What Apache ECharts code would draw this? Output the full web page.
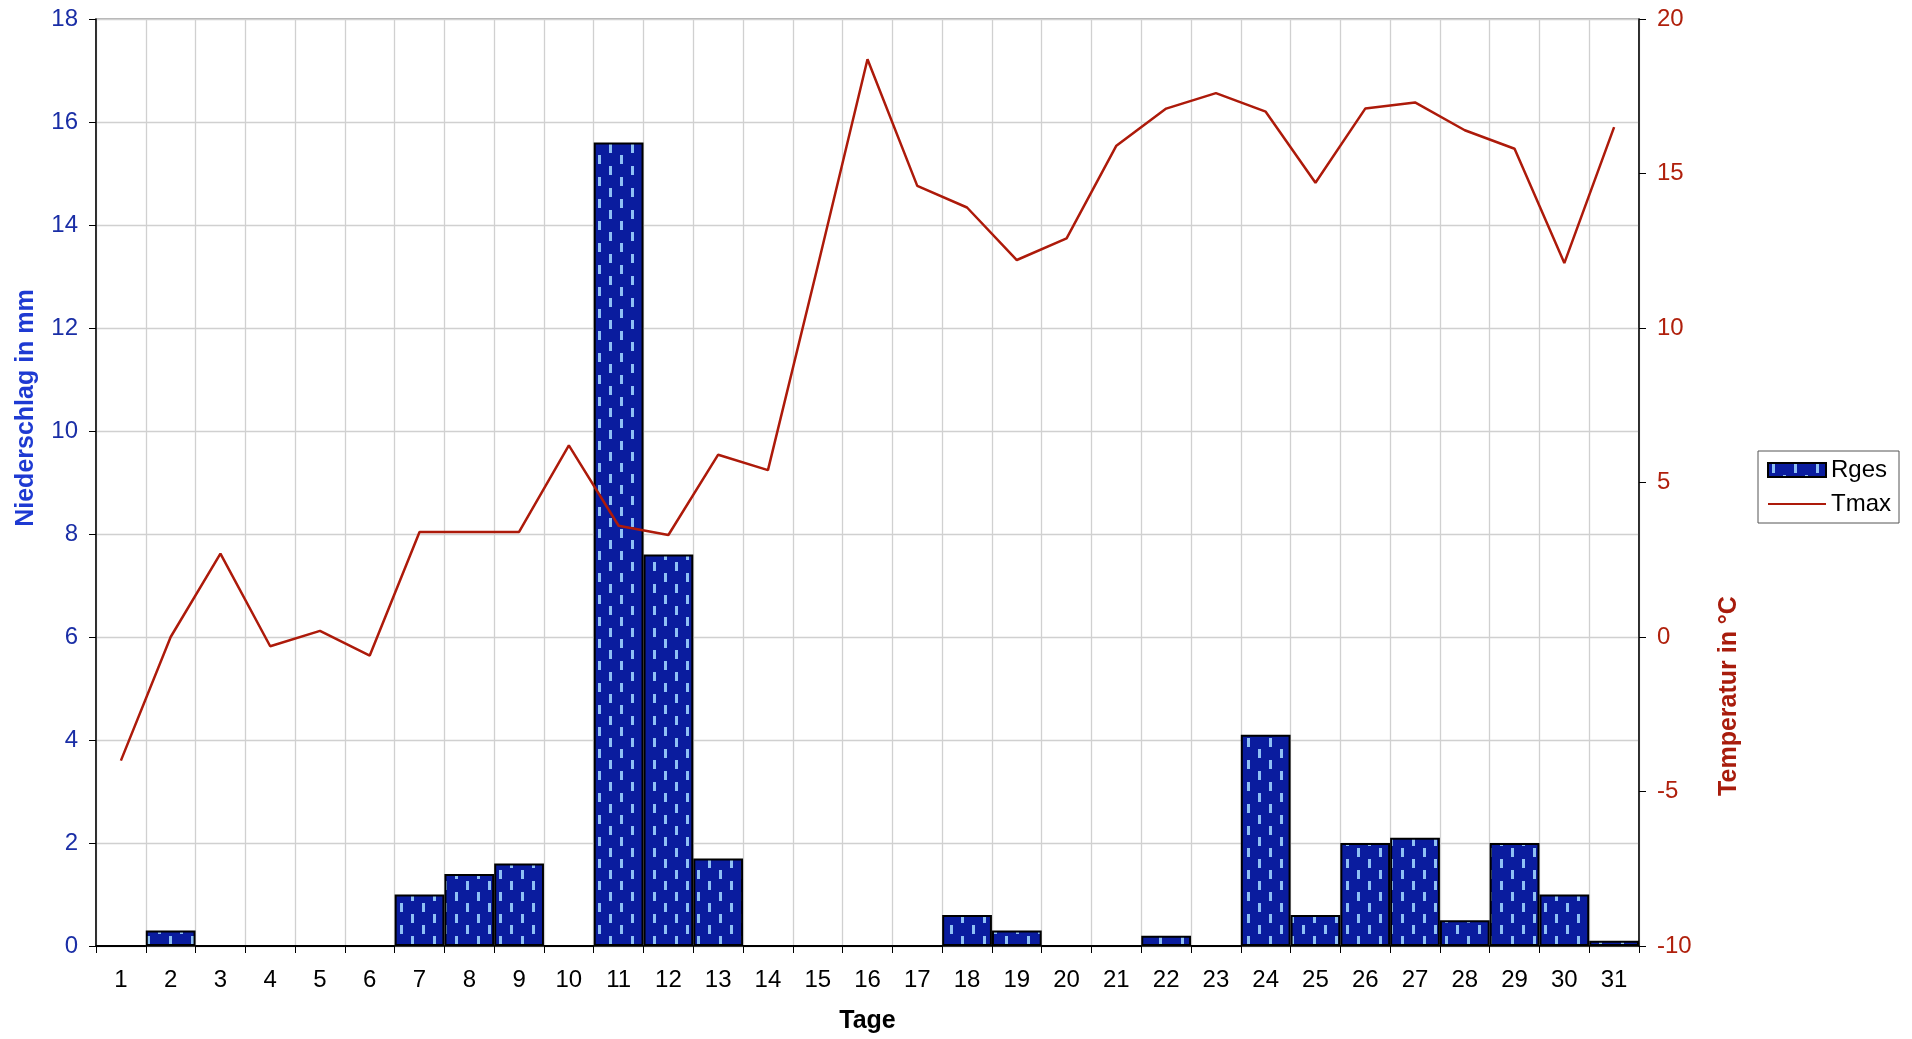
<!DOCTYPE html>
<html>
<head>
<meta charset="utf-8">
<script src="https://cdn.jsdelivr.net/npm/echarts@6/dist/echarts.min.js"></script>
<style>
html,body{margin:0;padding:0;background:#fff;}
#chart{width:1912px;height:1039px;}
</style>
</head>
<body>
<div id="chart"></div>
<script>
const days = ['1','2','3','4','5','6','7','8','9','10','11','12','13','14','15','16','17','18','19','20','21','22','23','24','25','26','27','28','29','30','31'];
const rges = [0,0.3,0,0,0,0,1.0,1.4,1.6,0,15.6,7.6,1.7,0,0,0,0,0.6,0.3,0,0,0.2,0,4.1,0.6,2.0,2.1,0.5,2.0,1.0,0.1];
const tmax = [-4.0,0.0,2.7,-0.3,0.2,-0.6,3.4,3.4,3.4,6.2,3.6,3.3,5.9,5.4,12.0,18.7,14.6,13.9,12.2,12.9,15.9,17.1,17.6,17.0,14.7,17.1,17.3,16.4,15.8,12.1,16.5];
const leftTicks = {min:0,max:18,interval:2};
const rightTicks = {min:-10,max:20,interval:5};
const leftTitle = 'Niederschlag in mm';
const rightTitle = 'Temperatur in °C';

// hatch pattern for bars
const pc = document.createElement('canvas');
pc.width = 22; pc.height = 22;
const g = pc.getContext('2d');
g.fillStyle = '#0a1c9e';
g.fillRect(0,0,22,22);
g.fillStyle = '#8fc0f4';
g.fillRect(4,1,3,9);
g.fillRect(15,12,3,9);

const FONT = '"Liberation Sans", Arial, sans-serif';
const chart = echarts.init(document.getElementById('chart'), null, {renderer:'canvas'});
chart.setOption({
  animation:false,
  textStyle:{fontFamily:FONT},
  grid:{left:96,right:273,top:19,bottom:91,show:true,borderColor:'#999',borderWidth:1.5},
  graphic:[
    {type:'text',x:26,y:408,rotation:Math.PI/2,
     style:{text:leftTitle,font:'bold 25px '+FONT,fill:'#1e3ad2',align:'center',verticalAlign:'middle'}},
    {type:'text',x:1729,y:696,rotation:Math.PI/2,
     style:{text:rightTitle,font:'bold 25px '+FONT,fill:'#a81c0c',align:'center',verticalAlign:'middle'}}
  ],
  legend:{
    orient:'vertical',left:1758,top:451,
    padding:[7,8,7,9],itemGap:10,itemWidth:58,itemHeight:14,
    borderColor:'#555',borderWidth:1,
    textStyle:{fontSize:24,color:'#000',fontFamily:FONT},
    data:[
      {name:'Rges',icon:'rect'},
      {name:'Tmax',itemStyle:{opacity:0}}
    ]
  },
  xAxis:{
    type:'category',data:days,boundaryGap:true,
    name:'Tage',nameLocation:'middle',nameGap:63,
    nameTextStyle:{fontSize:25,fontWeight:'bold',color:'#000'},
    axisLine:{lineStyle:{color:'#000',width:1.5}},
    axisTick:{show:true,length:7,lineStyle:{color:'#000'}},
    axisLabel:{fontSize:24,color:'#000',margin:22},
    splitLine:{show:true,lineStyle:{color:'#d0d0d0',width:1.3}}
  },
  yAxis:[
    {
      type:'value',min:leftTicks.min,max:leftTicks.max,interval:leftTicks.interval,
      axisLine:{show:true,lineStyle:{color:'#000',width:1.5}},
      axisTick:{show:true,length:7,lineStyle:{color:'#000'}},
      axisLabel:{fontSize:24,color:'#1a2ea6',margin:18},
      splitLine:{show:true,lineStyle:{color:'#d0d0d0',width:1.3}}
    },
    {
      type:'value',min:rightTicks.min,max:rightTicks.max,interval:rightTicks.interval,
      position:'right',
      axisLine:{show:true,lineStyle:{color:'#000',width:1.5}},
      axisTick:{show:true,length:7,lineStyle:{color:'#000'}},
      axisLabel:{fontSize:24,color:'#b0200c',margin:18},
      splitLine:{show:false}
    }
  ],
  series:[
    {
      name:'Rges',type:'bar',data:rges,yAxisIndex:0,
      barGap:'0%',barCategoryGap:'0%',
      itemStyle:{color:{image:pc,repeat:'repeat'},borderColor:'#000',borderWidth:2}
    },
    {
      name:'Tmax',type:'line',data:tmax,yAxisIndex:1,
      symbol:'none',
      lineStyle:{color:'#ad1a0a',width:2.5},
      itemStyle:{color:'#ad1a0a'}
    }
  ]
});
</script>
</body>
</html>
